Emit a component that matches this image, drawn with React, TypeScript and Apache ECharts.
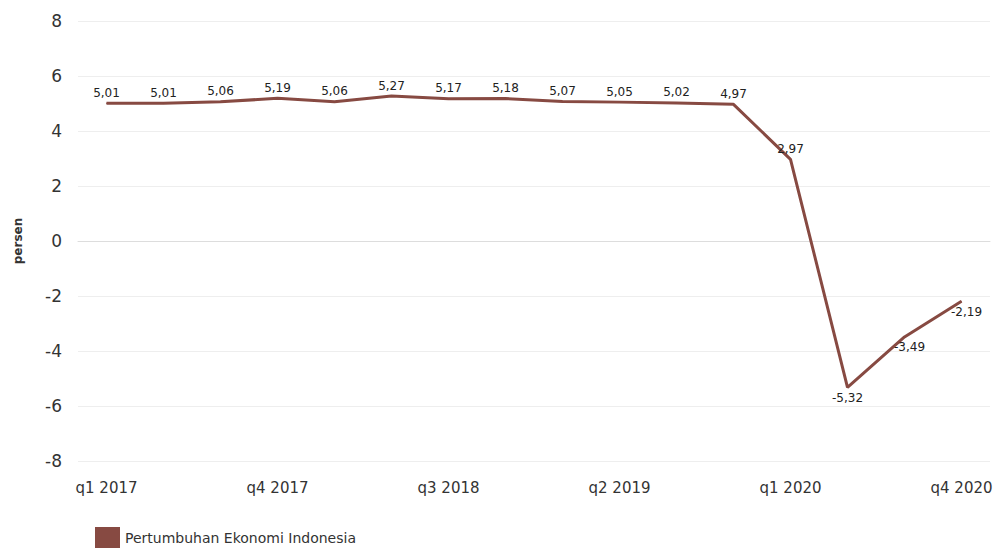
import React, { useEffect, useRef } from "react";
import * as echarts from "echarts";

const categories = [
  "q1 2017", "q2 2017", "q3 2017", "q4 2017",
  "q1 2018", "q2 2018", "q3 2018", "q4 2018",
  "q1 2019", "q2 2019", "q3 2019", "q4 2019",
  "q1 2020", "q2 2020", "q3 2020", "q4 2020",
];
const growth = [5.01, 5.01, 5.06, 5.19, 5.06, 5.27, 5.17, 5.18, 5.07, 5.05, 5.02, 4.97, 2.97, -5.32, -3.49, -2.19];
const seriesName = "Pertumbuhan Ekonomi Indonesia";
const yAxisName = "persen";

const LINE_COLOR = "#874a42";
const FONT = "DejaVu Sans, Verdana, sans-serif";

export default function App() {
  const ref = useRef<HTMLDivElement>(null);
  useEffect(() => {
    document.body.style.margin = "0";
    const chart = echarts.init(ref.current!, null, { renderer: "svg" });
    const data = growth.map((v, i) => ({
      value: v,
      label: {
        position: v < 0 ? "bottom" : "top",
        offset: i >= 14 ? [5, 0] : [0, 0],
      },
    }));
    chart.setOption({
      animation: false,
      textStyle: { fontFamily: FONT },
      grid: { left: 78, right: 7, top: 21, bottom: 87, containLabel: false },
      legend: {
        left: 95,
        top: 527,
        padding: 0,
        itemWidth: 25,
        itemHeight: 22,
        itemGap: 10,
        icon: "rect",
        textStyle: { fontSize: 14, color: "#333", fontFamily: FONT },
        data: [seriesName],
      },
      xAxis: {
        type: "category",
        data: categories,
        boundaryGap: true,
        axisLine: { lineStyle: { color: "#dddddd" } },
        axisTick: { alignWithLabel: true, interval: 2, length: 4, lineStyle: { color: "#dddddd" } },
        axisLabel: { interval: 2, fontSize: 15, color: "#333", margin: 19, fontFamily: FONT },
      },
      yAxis: {
        type: "value",
        min: -8,
        max: 8,
        interval: 2,
        name: yAxisName,
        nameLocation: "middle",
        nameGap: 54,
        nameTextStyle: { fontSize: 12, fontWeight: "bold", color: "#333", fontFamily: FONT },
        axisLine: { show: false },
        axisTick: { show: false },
        axisLabel: { fontSize: 17, color: "#333", margin: 16, fontFamily: FONT },
        splitLine: { lineStyle: { color: "#eeeeee" } },
      },
      series: [
        {
          name: seriesName,
          type: "line",
          data,
          symbol: "circle",
          symbolSize: 1,
          lineStyle: { color: LINE_COLOR, width: 3 },
          itemStyle: { color: LINE_COLOR },
          label: {
            show: true,
            fontSize: 12,
            color: "#222",
            distance: 4,
            fontFamily: FONT,
            formatter: (p: any) => String(p.value).replace(".", ","),
          },
        },
      ],
    });
    return () => chart.dispose();
  }, []);
  return <div ref={ref} style={{ width: 997, height: 548 }} />;
}
